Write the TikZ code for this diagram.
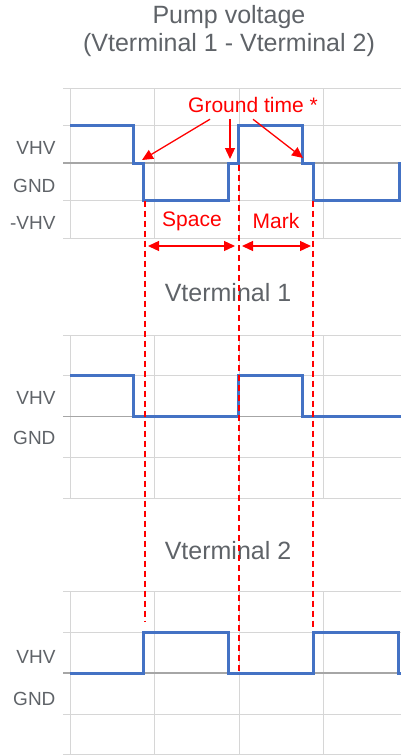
\documentclass[tikz,border=0pt]{standalone}
\usepackage{fontspec}
\setmainfont{Liberation Sans}
\usetikzlibrary{arrows.meta}
\definecolor{gridgray}{HTML}{D6D6D6}
\definecolor{gndgray}{HTML}{A6A6A6}
\definecolor{wave}{HTML}{4472C4}
\definecolor{txtgray}{HTML}{5F6368}
\definecolor{annot}{HTML}{FF0000}
\tikzset{
    gridline/.style={draw=gridgray, line width=1pt},
    gndline/.style={draw=gndgray, line width=1.3pt},
    signal/.style={draw=wave, line width=3pt},
    marker/.style={draw=annot, line width=1.3pt, dash pattern=on 6pt off 4pt},
    callout/.style={draw=annot, line width=1.3pt, -{Triangle[length=11pt, width=10pt]}},
    span/.style={draw=annot, line width=1.3pt, {Triangle[length=11pt, width=10pt]}-{Triangle[length=11pt, width=10pt]}},
    charttitle/.style={text=txtgray, font=\fontsize{25}{28}\selectfont, align=center},
    levellabel/.style={text=txtgray, font=\fontsize{19}{21}\selectfont, anchor=east},
    annotlabel/.style={text=annot, font=\fontsize{21}{24}\selectfont},
}

\begin{document}
\begin{tikzpicture}[x=1pt, y=-1pt]
    \useasboundingbox (0,0) rectangle (401,755);
    % grids
    \foreach \y in {88,125.5,200.5,238, 335,375.75,457.25,498, 591,632,714,754}
        \draw[gridline] (63,\y) -- (401,\y);
    \foreach \x in {70,154,239,323} {
        \draw[gridline] (\x,88) -- (\x,238);
        \draw[gridline] (\x,335) -- (\x,498);
        \draw[gridline] (\x,591) -- (\x,755);
    }
    \foreach \y in {163,416.5,673}
        \draw[gndline] (63,\y) -- (401,\y);

    % titles
    \node[charttitle] (pumptitle) at (229,31) {Pump voltage\\(Vterminal 1 - Vterminal 2)};
    \node[charttitle] (vtonetitle) at (228,293) {Vterminal 1};
    \node[charttitle] (vttwotitle) at (228,551) {Vterminal 2};

    % level labels
    \node[levellabel] (vhvA) at (59,148) {VHV};
    \node[levellabel] (gndA) at (59,186) {GND};
    \node[levellabel] (nvhvA) at (59,223) {-VHV};
    \node[levellabel] (vhvB) at (59,398) {VHV};
    \node[levellabel] (gndB) at (59,438) {GND};
    \node[levellabel] (vhvC) at (59,657) {VHV};
    \node[levellabel] (gndC) at (59,699) {GND};

    % waveforms
    \draw[signal] (70,125.5) -- (133,125.5) -- (133,163) -- (143,163) -- (143,200.5) -- (228,200.5)
        -- (228,163) -- (238,163) -- (238,125.5) -- (302,125.5) -- (302,163) -- (313,163)
        -- (313,200.5) -- (399,200.5) -- (399,163) -- (403,163);
    \draw[signal] (70,375.75) -- (133,375.75) -- (133,416.5) -- (238,416.5) -- (238,375.75)
        -- (302,375.75) -- (302,416.5) -- (403,416.5);
    \draw[signal] (70,673) -- (143,673) -- (143,632) -- (228,632) -- (228,673) -- (313,673)
        -- (313,632) -- (398,632) -- (398,673) -- (403,673);

    % markers
    \draw[marker] (145,200.5) -- (145,622);
    \draw[marker] (239,165) -- (239,673);
    \draw[marker] (313,200.5) -- (313,630);

    % annotations
    \node[annotlabel] (groundlbl) at (253,105) {Ground time *};
    \coordinate (gtfall) at (142,160);
    \coordinate (gtrise) at (230,159);
    \coordinate (gtmark) at (303,158);
    \draw[callout] ([xshift=-43pt, yshift=-3pt]groundlbl.south) -- (gtfall);
    \draw[callout] ([xshift=-23pt, yshift=-3pt]groundlbl.south) -- (gtrise);
    \draw[callout] ([xshift=0pt, yshift=-3pt]groundlbl.south) -- (gtmark);

    \node[annotlabel] (spacelbl) at (192,221) {Space};
    \node[annotlabel] (marklbl) at (276,221) {Mark};
    \coordinate (spA) at (148,246);
    \coordinate (spB) at (235,246);
    \coordinate (mkA) at (242,246);
    \coordinate (mkB) at (311,246);
    \draw[span] (spA) -- (spB);
    \draw[span] (mkA) -- (mkB);
\end{tikzpicture}
\end{document}
